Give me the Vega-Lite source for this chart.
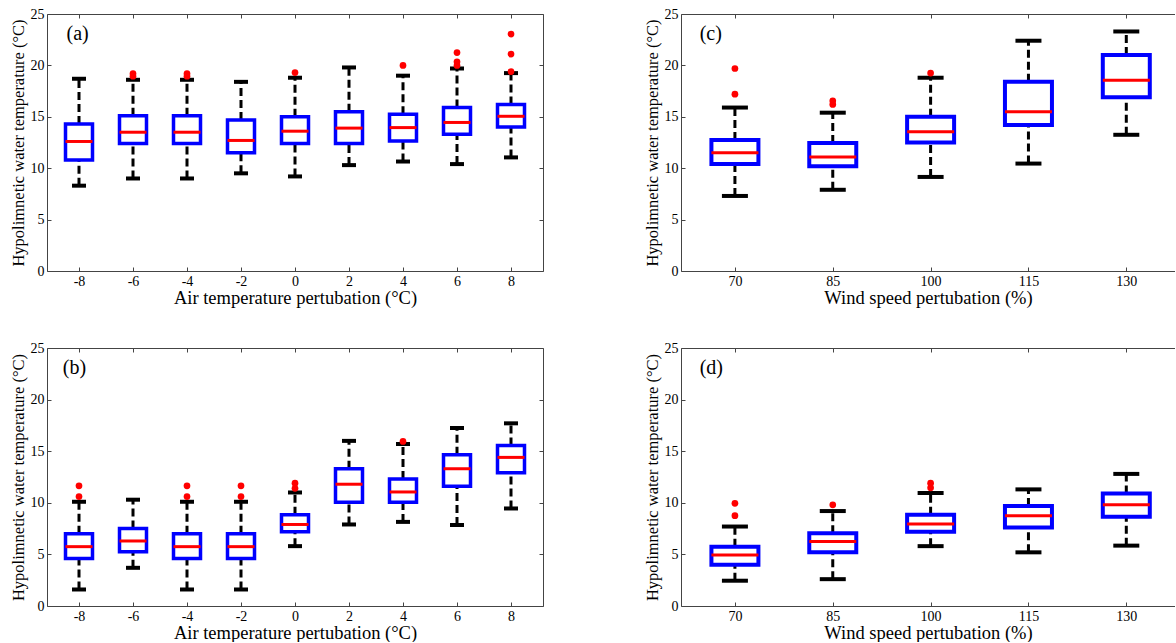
{
  "$schema": "https://vega.github.io/schema/vega-lite/v6.json",
  "background": "white",
  "padding": {"left": 9, "top": 7, "right": 0, "bottom": 0},
  "bounds": "flush",
  "spacing": {"row": 77, "column": 138},
  "columns": 2,
  "config": {
    "font": "Liberation Serif",
    "view": {"stroke": null},
    "style": {"guide-label": {"font": "Liberation Serif"}, "guide-title": {"font": "Liberation Serif"}},
    "axis": {"domainColor": "#444", "tickColor": "#444", "labelFont": "Liberation Serif", "labelFontSize": 14, "labelColor": "#000", "titleFont": "Liberation Serif", "titleFontSize": 18.5, "titleFontWeight": "normal", "titleColor": "#000", "grid": false, "tickSize": -4, "labelPadding": 7, "titlePadding": 0},
    "axisY": {"titleFontSize": 16.5, "titlePadding": 4},
    "tick": {"orient": "horizontal", "opacity": 1}
  },
  "datasets": {
    "boxes": [
      {"panel": "a", "x": -8, "lo": 8.3, "q1": 10.8, "med": 12.6, "q3": 14.3, "hi": 18.7},
      {"panel": "a", "x": -6, "lo": 9.0, "q1": 12.4, "med": 13.5, "q3": 15.1, "hi": 18.6},
      {"panel": "a", "x": -4, "lo": 9.0, "q1": 12.4, "med": 13.5, "q3": 15.1, "hi": 18.6},
      {"panel": "a", "x": -2, "lo": 9.5, "q1": 11.5, "med": 12.7, "q3": 14.7, "hi": 18.4},
      {"panel": "a", "x": 0, "lo": 9.2, "q1": 12.4, "med": 13.6, "q3": 15.0, "hi": 18.8},
      {"panel": "a", "x": 2, "lo": 10.3, "q1": 12.4, "med": 13.9, "q3": 15.5, "hi": 19.8},
      {"panel": "a", "x": 4, "lo": 10.65, "q1": 12.65, "med": 13.95, "q3": 15.25, "hi": 19.0},
      {"panel": "a", "x": 6, "lo": 10.4, "q1": 13.3, "med": 14.45, "q3": 15.9, "hi": 19.7},
      {"panel": "a", "x": 8, "lo": 11.05, "q1": 14.0, "med": 15.05, "q3": 16.2, "hi": 19.25},
      {"panel": "c", "x": 70, "lo": 7.3, "q1": 10.4, "med": 11.5, "q3": 12.75, "hi": 15.9},
      {"panel": "c", "x": 85, "lo": 7.9, "q1": 10.2, "med": 11.1, "q3": 12.45, "hi": 15.4},
      {"panel": "c", "x": 100, "lo": 9.15, "q1": 12.5, "med": 13.55, "q3": 15.0, "hi": 18.8},
      {"panel": "c", "x": 115, "lo": 10.45, "q1": 14.2, "med": 15.5, "q3": 18.4, "hi": 22.4},
      {"panel": "c", "x": 130, "lo": 13.25, "q1": 16.9, "med": 18.55, "q3": 21.0, "hi": 23.3},
      {"panel": "b", "x": -8, "lo": 1.6, "q1": 4.6, "med": 5.75, "q3": 7.0, "hi": 10.1},
      {"panel": "b", "x": -6, "lo": 3.7, "q1": 5.25, "med": 6.3, "q3": 7.5, "hi": 10.3},
      {"panel": "b", "x": -4, "lo": 1.6, "q1": 4.6, "med": 5.75, "q3": 7.0, "hi": 10.1},
      {"panel": "b", "x": -2, "lo": 1.6, "q1": 4.6, "med": 5.75, "q3": 7.0, "hi": 10.1},
      {"panel": "b", "x": 0, "lo": 5.8, "q1": 7.2, "med": 7.9, "q3": 8.85, "hi": 11.0},
      {"panel": "b", "x": 2, "lo": 7.9, "q1": 10.05, "med": 11.8, "q3": 13.3, "hi": 16.0},
      {"panel": "b", "x": 4, "lo": 8.15, "q1": 10.05, "med": 11.05, "q3": 12.3, "hi": 15.7},
      {"panel": "b", "x": 6, "lo": 7.85, "q1": 11.6, "med": 13.3, "q3": 14.65, "hi": 17.25},
      {"panel": "b", "x": 8, "lo": 9.45, "q1": 12.9, "med": 14.4, "q3": 15.55, "hi": 17.7},
      {"panel": "d", "x": 70, "lo": 2.45, "q1": 4.0, "med": 4.95, "q3": 5.75, "hi": 7.7},
      {"panel": "d", "x": 85, "lo": 2.6, "q1": 5.2, "med": 6.25, "q3": 7.05, "hi": 9.2},
      {"panel": "d", "x": 100, "lo": 5.8, "q1": 7.2, "med": 7.95, "q3": 8.85, "hi": 10.95},
      {"panel": "d", "x": 115, "lo": 5.2, "q1": 7.6, "med": 8.75, "q3": 9.7, "hi": 11.3},
      {"panel": "d", "x": 130, "lo": 5.85, "q1": 8.65, "med": 9.8, "q3": 10.9, "hi": 12.8}
    ],
    "outliers": [
      {"panel": "a", "x": -6, "y": 19.2}, {"panel": "a", "x": -6, "y": 18.95},
      {"panel": "a", "x": -4, "y": 19.2}, {"panel": "a", "x": -4, "y": 18.95},
      {"panel": "a", "x": 0, "y": 19.3}, {"panel": "a", "x": 4, "y": 20.0},
      {"panel": "a", "x": 6, "y": 21.25}, {"panel": "a", "x": 6, "y": 20.35}, {"panel": "a", "x": 6, "y": 20.0},
      {"panel": "a", "x": 8, "y": 23.05}, {"panel": "a", "x": 8, "y": 21.1}, {"panel": "a", "x": 8, "y": 19.4},
      {"panel": "c", "x": 70, "y": 19.7}, {"panel": "c", "x": 70, "y": 17.2},
      {"panel": "c", "x": 85, "y": 16.55}, {"panel": "c", "x": 85, "y": 16.2},
      {"panel": "c", "x": 100, "y": 19.25},
      {"panel": "b", "x": -8, "y": 11.65}, {"panel": "b", "x": -8, "y": 10.6},
      {"panel": "b", "x": -4, "y": 11.65}, {"panel": "b", "x": -4, "y": 10.6},
      {"panel": "b", "x": -2, "y": 11.65}, {"panel": "b", "x": -2, "y": 10.6},
      {"panel": "b", "x": 0, "y": 11.9}, {"panel": "b", "x": 0, "y": 11.4},
      {"panel": "b", "x": 4, "y": 15.95},
      {"panel": "d", "x": 70, "y": 9.95}, {"panel": "d", "x": 70, "y": 8.75},
      {"panel": "d", "x": 85, "y": 9.8},
      {"panel": "d", "x": 100, "y": 11.9}, {"panel": "d", "x": 100, "y": 11.45}
    ],
    "labels": [
      {"panel": "a", "x": -8.46, "y": 22.5, "text": "(a)"},
      {"panel": "c", "x": 64.6, "y": 22.5, "text": "(c)"},
      {"panel": "b", "x": -8.6, "y": 22.5, "text": "(b)"},
      {"panel": "d", "x": 64.6, "y": 22.5, "text": "(d)"}
    ]
  },
  "concat": [
    {
      "width": 496, "height": 257,
      "resolve": {"axis": {"x": "independent", "y": "independent"}},
      "layer": [
        {"data": {"name": "boxes"}, "transform": [{"filter": "datum.panel == 'a'"}],
         "mark": {"type": "rule", "strokeDash": [8, 4], "strokeWidth": 3, "color": "#000"},
         "encoding": {
           "x": {"field": "x", "type": "quantitative", "scale": {"domain": [-9, 9], "nice": false, "zero": false}, "axis": {"orient": "bottom", "values": [-8, -6, -4, -2, 0, 2, 4, 6, 8], "labelExpr": "'' + datum.value", "title": "Air temperature pertubation (°C)"}},
           "y": {"field": "lo", "type": "quantitative", "scale": {"domain": [0, 25], "nice": false}, "axis": {"orient": "left", "values": [0, 5, 10, 15, 20, 25], "title": "Hypolimnetic water temperature (°C)"}},
           "y2": {"field": "q1"}}},
        {"data": {"name": "boxes"}, "transform": [{"filter": "datum.panel == 'a'"}],
         "mark": {"type": "rule", "strokeDash": [8, 4], "strokeWidth": 3, "color": "#000"},
         "encoding": {
           "x": {"field": "x", "type": "quantitative", "axis": {"orient": "top", "values": [-8, -6, -4, -2, 0, 2, 4, 6, 8], "labels": false, "title": null}},
           "y": {"field": "q3", "type": "quantitative", "axis": {"orient": "right", "values": [0, 5, 10, 15, 20, 25], "labels": false, "title": null}},
           "y2": {"field": "hi"}}},
        {"data": {"name": "boxes"}, "transform": [{"filter": "datum.panel == 'a'"}],
         "mark": {"type": "tick", "orient": "horizontal", "size": 14, "thickness": 4, "color": "#000", "opacity": 1},
         "encoding": {"x": {"field": "x", "type": "quantitative", "axis": null}, "y": {"field": "lo", "type": "quantitative", "axis": null}}},
        {"data": {"name": "boxes"}, "transform": [{"filter": "datum.panel == 'a'"}],
         "mark": {"type": "tick", "orient": "horizontal", "size": 14, "thickness": 4, "color": "#000", "opacity": 1},
         "encoding": {"x": {"field": "x", "type": "quantitative", "axis": null}, "y": {"field": "hi", "type": "quantitative", "axis": null}}},
        {"data": {"name": "boxes"}, "transform": [{"filter": "datum.panel == 'a'"}],
         "mark": {"type": "bar", "size": 27, "fill": "#fff", "stroke": "#0000ff", "strokeWidth": 3.5},
         "encoding": {"x": {"field": "x", "type": "quantitative", "axis": null}, "y": {"field": "q1", "type": "quantitative", "axis": null}, "y2": {"field": "q3"}}},
        {"data": {"name": "boxes"}, "transform": [{"filter": "datum.panel == 'a'"}],
         "mark": {"type": "tick", "orient": "horizontal", "size": 27, "thickness": 3, "color": "#ff0000", "opacity": 1},
         "encoding": {"x": {"field": "x", "type": "quantitative", "axis": null}, "y": {"field": "med", "type": "quantitative", "axis": null}}},
        {"data": {"name": "outliers"}, "transform": [{"filter": "datum.panel == 'a'"}],
         "mark": {"type": "point", "shape": "circle", "filled": true, "size": 45, "color": "#ff0000", "opacity": 1},
         "encoding": {"x": {"field": "x", "type": "quantitative", "axis": null}, "y": {"field": "y", "type": "quantitative", "axis": null}}},
        {"data": {"name": "labels"}, "transform": [{"filter": "datum.panel == 'a'"}],
         "mark": {"type": "text", "align": "left", "baseline": "alphabetic", "fontSize": 20, "font": "Liberation Serif", "color": "#000"},
         "encoding": {"x": {"field": "x", "type": "quantitative", "axis": null}, "y": {"field": "y", "type": "quantitative", "axis": null}, "text": {"field": "text"}}}
      ]
    },
    {
      "width": 494, "height": 257,
      "resolve": {"axis": {"x": "independent", "y": "independent"}},
      "layer": [
        {"data": {"name": "boxes"}, "transform": [{"filter": "datum.panel == 'c'"}],
         "mark": {"type": "rule", "strokeDash": [8, 4], "strokeWidth": 3, "color": "#000"},
         "encoding": {
           "x": {"field": "x", "type": "quantitative", "scale": {"domain": [62.5, 136.7], "nice": false, "zero": false}, "axis": {"orient": "bottom", "values": [70, 85, 100, 115, 130], "title": "Wind speed pertubation (%)"}},
           "y": {"field": "lo", "type": "quantitative", "scale": {"domain": [0, 25], "nice": false}, "axis": {"orient": "left", "values": [0, 5, 10, 15, 20, 25], "title": "Hypolimnetic water temperature (°C)"}},
           "y2": {"field": "q1"}}},
        {"data": {"name": "boxes"}, "transform": [{"filter": "datum.panel == 'c'"}],
         "mark": {"type": "rule", "strokeDash": [8, 4], "strokeWidth": 3, "color": "#000"},
         "encoding": {
           "x": {"field": "x", "type": "quantitative", "axis": {"orient": "top", "values": [70, 85, 100, 115, 130], "labels": false, "title": null}},
           "y": {"field": "q3", "type": "quantitative", "axis": null},
           "y2": {"field": "hi"}}},
        {"data": {"name": "boxes"}, "transform": [{"filter": "datum.panel == 'c'"}],
         "mark": {"type": "tick", "orient": "horizontal", "size": 26, "thickness": 4, "color": "#000", "opacity": 1},
         "encoding": {"x": {"field": "x", "type": "quantitative", "axis": null}, "y": {"field": "lo", "type": "quantitative", "axis": null}}},
        {"data": {"name": "boxes"}, "transform": [{"filter": "datum.panel == 'c'"}],
         "mark": {"type": "tick", "orient": "horizontal", "size": 26, "thickness": 4, "color": "#000", "opacity": 1},
         "encoding": {"x": {"field": "x", "type": "quantitative", "axis": null}, "y": {"field": "hi", "type": "quantitative", "axis": null}}},
        {"data": {"name": "boxes"}, "transform": [{"filter": "datum.panel == 'c'"}],
         "mark": {"type": "bar", "size": 47, "fill": "#fff", "stroke": "#0000ff", "strokeWidth": 4},
         "encoding": {"x": {"field": "x", "type": "quantitative", "axis": null}, "y": {"field": "q1", "type": "quantitative", "axis": null}, "y2": {"field": "q3"}}},
        {"data": {"name": "boxes"}, "transform": [{"filter": "datum.panel == 'c'"}],
         "mark": {"type": "tick", "orient": "horizontal", "size": 47, "thickness": 3, "color": "#ff0000", "opacity": 1},
         "encoding": {"x": {"field": "x", "type": "quantitative", "axis": null}, "y": {"field": "med", "type": "quantitative", "axis": null}}},
        {"data": {"name": "outliers"}, "transform": [{"filter": "datum.panel == 'c'"}],
         "mark": {"type": "point", "shape": "circle", "filled": true, "size": 45, "color": "#ff0000", "opacity": 1},
         "encoding": {"x": {"field": "x", "type": "quantitative", "axis": null}, "y": {"field": "y", "type": "quantitative", "axis": null}}},
        {"data": {"name": "labels"}, "transform": [{"filter": "datum.panel == 'c'"}],
         "mark": {"type": "text", "align": "left", "baseline": "alphabetic", "fontSize": 20, "font": "Liberation Serif", "color": "#000"},
         "encoding": {"x": {"field": "x", "type": "quantitative", "axis": null}, "y": {"field": "y", "type": "quantitative", "axis": null}, "text": {"field": "text"}}}
      ]
    },
    {
      "width": 496, "height": 258,
      "resolve": {"axis": {"x": "independent", "y": "independent"}},
      "layer": [
        {"data": {"name": "boxes"}, "transform": [{"filter": "datum.panel == 'b'"}],
         "mark": {"type": "rule", "strokeDash": [8, 4], "strokeWidth": 3, "color": "#000"},
         "encoding": {
           "x": {"field": "x", "type": "quantitative", "scale": {"domain": [-9, 9], "nice": false, "zero": false}, "axis": {"orient": "bottom", "values": [-8, -6, -4, -2, 0, 2, 4, 6, 8], "labelExpr": "'' + datum.value", "title": "Air temperature pertubation (°C)"}},
           "y": {"field": "lo", "type": "quantitative", "scale": {"domain": [0, 25], "nice": false}, "axis": {"orient": "left", "values": [0, 5, 10, 15, 20, 25], "title": "Hypolimnetic water temperature (°C)"}},
           "y2": {"field": "q1"}}},
        {"data": {"name": "boxes"}, "transform": [{"filter": "datum.panel == 'b'"}],
         "mark": {"type": "rule", "strokeDash": [8, 4], "strokeWidth": 3, "color": "#000"},
         "encoding": {
           "x": {"field": "x", "type": "quantitative", "axis": {"orient": "top", "values": [-8, -6, -4, -2, 0, 2, 4, 6, 8], "labels": false, "title": null}},
           "y": {"field": "q3", "type": "quantitative", "axis": {"orient": "right", "values": [0, 5, 10, 15, 20, 25], "labels": false, "title": null}},
           "y2": {"field": "hi"}}},
        {"data": {"name": "boxes"}, "transform": [{"filter": "datum.panel == 'b'"}],
         "mark": {"type": "tick", "orient": "horizontal", "size": 14, "thickness": 4, "color": "#000", "opacity": 1},
         "encoding": {"x": {"field": "x", "type": "quantitative", "axis": null}, "y": {"field": "lo", "type": "quantitative", "axis": null}}},
        {"data": {"name": "boxes"}, "transform": [{"filter": "datum.panel == 'b'"}],
         "mark": {"type": "tick", "orient": "horizontal", "size": 14, "thickness": 4, "color": "#000", "opacity": 1},
         "encoding": {"x": {"field": "x", "type": "quantitative", "axis": null}, "y": {"field": "hi", "type": "quantitative", "axis": null}}},
        {"data": {"name": "boxes"}, "transform": [{"filter": "datum.panel == 'b'"}],
         "mark": {"type": "bar", "size": 27, "fill": "#fff", "stroke": "#0000ff", "strokeWidth": 3.5},
         "encoding": {"x": {"field": "x", "type": "quantitative", "axis": null}, "y": {"field": "q1", "type": "quantitative", "axis": null}, "y2": {"field": "q3"}}},
        {"data": {"name": "boxes"}, "transform": [{"filter": "datum.panel == 'b'"}],
         "mark": {"type": "tick", "orient": "horizontal", "size": 27, "thickness": 3, "color": "#ff0000", "opacity": 1},
         "encoding": {"x": {"field": "x", "type": "quantitative", "axis": null}, "y": {"field": "med", "type": "quantitative", "axis": null}}},
        {"data": {"name": "outliers"}, "transform": [{"filter": "datum.panel == 'b'"}],
         "mark": {"type": "point", "shape": "circle", "filled": true, "size": 45, "color": "#ff0000", "opacity": 1},
         "encoding": {"x": {"field": "x", "type": "quantitative", "axis": null}, "y": {"field": "y", "type": "quantitative", "axis": null}}},
        {"data": {"name": "labels"}, "transform": [{"filter": "datum.panel == 'b'"}],
         "mark": {"type": "text", "align": "left", "baseline": "alphabetic", "fontSize": 20, "font": "Liberation Serif", "color": "#000"},
         "encoding": {"x": {"field": "x", "type": "quantitative", "axis": null}, "y": {"field": "y", "type": "quantitative", "axis": null}, "text": {"field": "text"}}}
      ]
    },
    {
      "width": 494, "height": 258,
      "resolve": {"axis": {"x": "independent", "y": "independent"}},
      "layer": [
        {"data": {"name": "boxes"}, "transform": [{"filter": "datum.panel == 'd'"}],
         "mark": {"type": "rule", "strokeDash": [8, 4], "strokeWidth": 3, "color": "#000"},
         "encoding": {
           "x": {"field": "x", "type": "quantitative", "scale": {"domain": [62.5, 136.7], "nice": false, "zero": false}, "axis": {"orient": "bottom", "values": [70, 85, 100, 115, 130], "title": "Wind speed pertubation (%)"}},
           "y": {"field": "lo", "type": "quantitative", "scale": {"domain": [0, 25], "nice": false}, "axis": {"orient": "left", "values": [0, 5, 10, 15, 20, 25], "title": "Hypolimnetic water temperature (°C)"}},
           "y2": {"field": "q1"}}},
        {"data": {"name": "boxes"}, "transform": [{"filter": "datum.panel == 'd'"}],
         "mark": {"type": "rule", "strokeDash": [8, 4], "strokeWidth": 3, "color": "#000"},
         "encoding": {
           "x": {"field": "x", "type": "quantitative", "axis": {"orient": "top", "values": [70, 85, 100, 115, 130], "labels": false, "title": null}},
           "y": {"field": "q3", "type": "quantitative", "axis": null},
           "y2": {"field": "hi"}}},
        {"data": {"name": "boxes"}, "transform": [{"filter": "datum.panel == 'd'"}],
         "mark": {"type": "tick", "orient": "horizontal", "size": 26, "thickness": 4, "color": "#000", "opacity": 1},
         "encoding": {"x": {"field": "x", "type": "quantitative", "axis": null}, "y": {"field": "lo", "type": "quantitative", "axis": null}}},
        {"data": {"name": "boxes"}, "transform": [{"filter": "datum.panel == 'd'"}],
         "mark": {"type": "tick", "orient": "horizontal", "size": 26, "thickness": 4, "color": "#000", "opacity": 1},
         "encoding": {"x": {"field": "x", "type": "quantitative", "axis": null}, "y": {"field": "hi", "type": "quantitative", "axis": null}}},
        {"data": {"name": "boxes"}, "transform": [{"filter": "datum.panel == 'd'"}],
         "mark": {"type": "bar", "size": 47, "fill": "#fff", "stroke": "#0000ff", "strokeWidth": 4},
         "encoding": {"x": {"field": "x", "type": "quantitative", "axis": null}, "y": {"field": "q1", "type": "quantitative", "axis": null}, "y2": {"field": "q3"}}},
        {"data": {"name": "boxes"}, "transform": [{"filter": "datum.panel == 'd'"}],
         "mark": {"type": "tick", "orient": "horizontal", "size": 47, "thickness": 3, "color": "#ff0000", "opacity": 1},
         "encoding": {"x": {"field": "x", "type": "quantitative", "axis": null}, "y": {"field": "med", "type": "quantitative", "axis": null}}},
        {"data": {"name": "outliers"}, "transform": [{"filter": "datum.panel == 'd'"}],
         "mark": {"type": "point", "shape": "circle", "filled": true, "size": 45, "color": "#ff0000", "opacity": 1},
         "encoding": {"x": {"field": "x", "type": "quantitative", "axis": null}, "y": {"field": "y", "type": "quantitative", "axis": null}}},
        {"data": {"name": "labels"}, "transform": [{"filter": "datum.panel == 'd'"}],
         "mark": {"type": "text", "align": "left", "baseline": "alphabetic", "fontSize": 20, "font": "Liberation Serif", "color": "#000"},
         "encoding": {"x": {"field": "x", "type": "quantitative", "axis": null}, "y": {"field": "y", "type": "quantitative", "axis": null}, "text": {"field": "text"}}}
      ]
    }
  ]
}
